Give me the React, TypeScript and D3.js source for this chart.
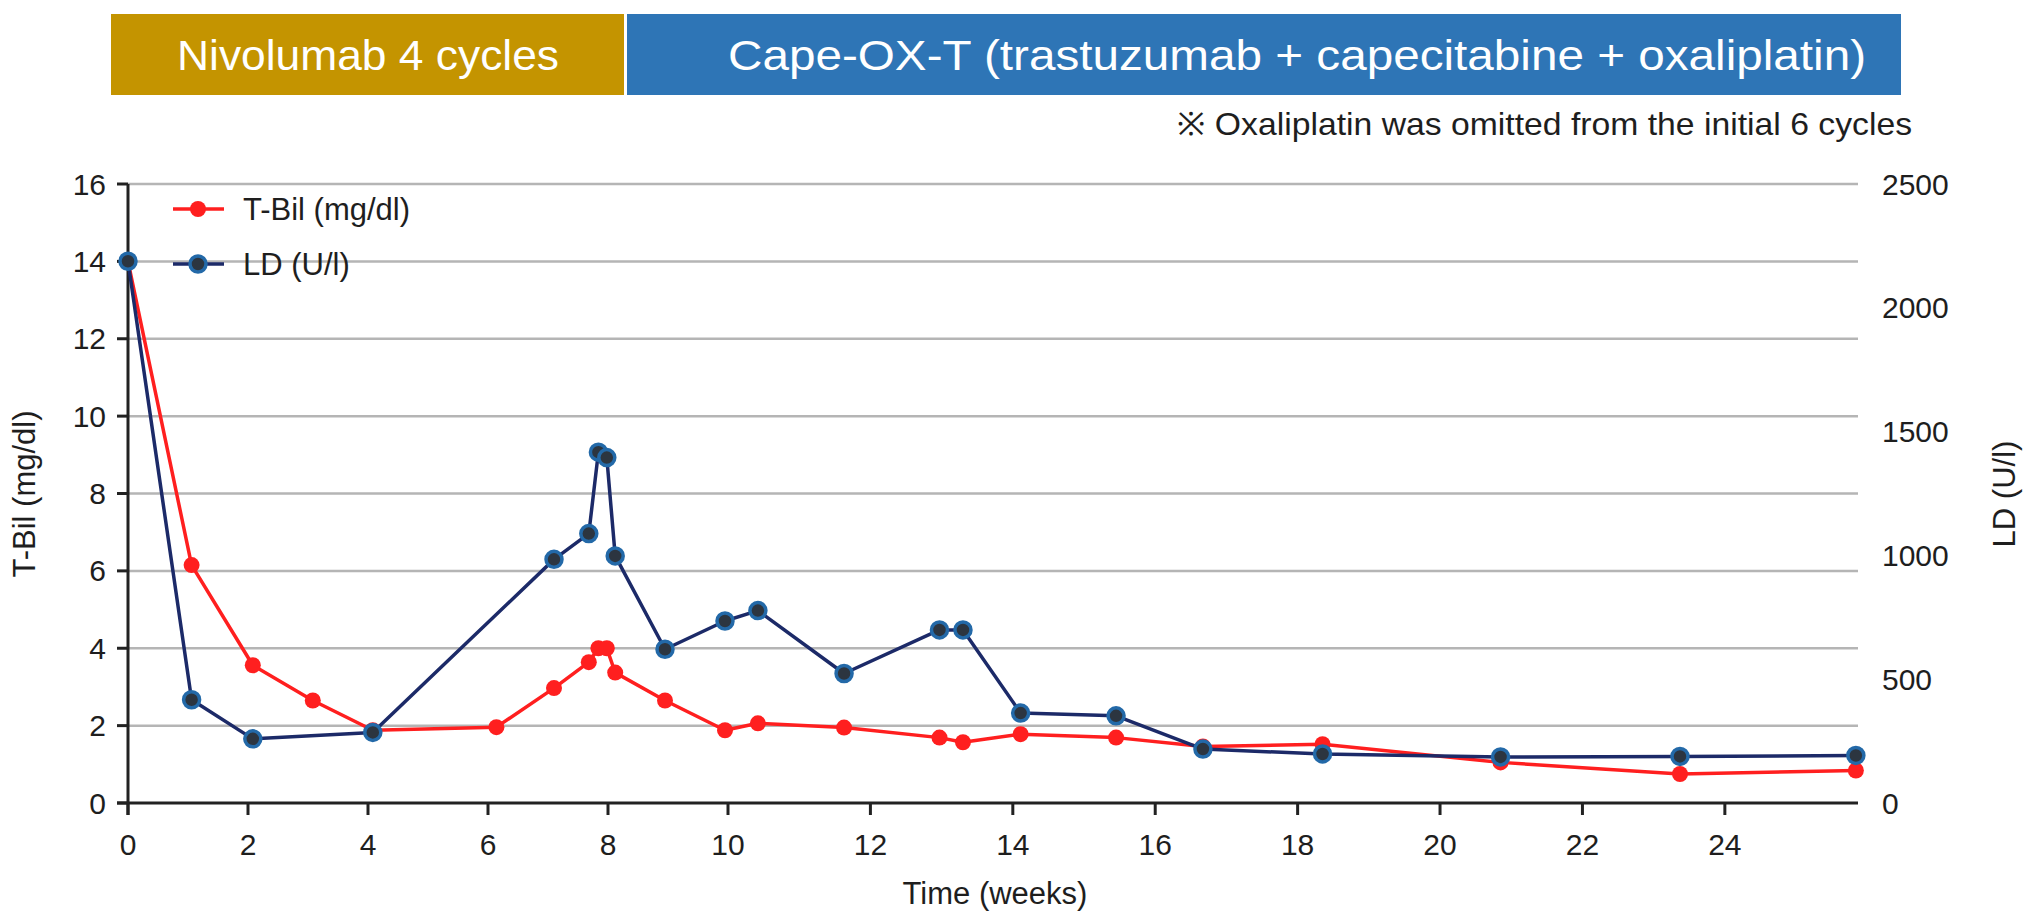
import React from 'react';
import * as d3 from 'd3';

const tbilWeeks = [0, 1.06, 2.08, 3.08, 4.08, 6.14, 7.1, 7.68, 7.84, 7.98, 8.12, 8.95, 9.95, 10.42, 11.63, 12.97, 13.3, 14.11, 15.45, 16.67, 18.35, 20.85, 23.37, 25.84];
const tbilValues = [14.0, 6.15, 3.56, 2.65, 1.88, 1.96, 2.97, 3.64, 4.0, 4.0, 3.37, 2.65, 1.88, 2.06, 1.95, 1.69, 1.57, 1.78, 1.69, 1.46, 1.52, 1.05, 0.75, 0.84];
const ldWeeks = [0, 1.06, 2.08, 4.08, 7.1, 7.68, 7.84, 7.98, 8.12, 8.95, 9.95, 10.42, 11.63, 12.97, 13.3, 14.11, 15.45, 16.67, 18.35, 20.85, 23.37, 25.84];
const ldValues = [2188, 417, 259, 285, 984, 1088, 1417, 1395, 998, 621, 735, 777, 523, 699, 699, 363, 352, 218, 198, 186, 188, 192];

const xTicks = [0, 2, 4, 6, 8, 10, 12, 14, 16, 18, 20, 22, 24];
const leftTicks = [0, 2, 4, 6, 8, 10, 12, 14, 16];
const rightTicks = [0, 500, 1000, 1500, 2000, 2500];

const phases = [
  { label: 'Nivolumab 4 cycles', color: '#c49400' },
  { label: 'Cape-OX-T (trastuzumab + capecitabine + oxaliplatin)', color: '#2e75b6' },
];
const note = '※ Oxaliplatin was omitted from the initial 6 cycles';
const seriesNames = ['T-Bil (mg/dl)', 'LD (U/l)'];

const FONT = '"Liberation Sans", Arial, Helvetica, sans-serif';
const RED = '#ff1f1f';
const NAVY = '#1c2a68';

export default function App() {
  const W = 2032, H = 923;
  const left = 128, right = 1858, top = 184, bottom = 803;
  const x = d3.scaleLinear().domain([0, 10, 25.87]).range([left, 728, right]);
  const yL = d3.scaleLinear().domain([0, 16]).range([bottom, top]);
  const yR = d3.scaleLinear().domain([0, 2500]).range([bottom, top]);

  const tbil = tbilWeeks.map((w, i) => [w, tbilValues[i]] as [number, number]);
  const ld = ldWeeks.map((w, i) => [w, ldValues[i]] as [number, number]);
  const lineT = d3.line<[number, number]>().x(d => x(d[0])).y(d => yL(d[1]));
  const lineL = d3.line<[number, number]>().x(d => x(d[0])).y(d => yR(d[1]));

  const textColor = '#1e1e1e';

  return (
    <svg width={W} height={H} style={{ position: 'absolute', left: 0, top: 0, background: '#fff' }} fontFamily={FONT}>
      <rect x={0} y={0} width={W} height={H} fill="#fff" />
      {/* phase banner */}
      <rect x={111} y={14} width={513} height={81} fill={phases[0].color} />
      <rect x={627} y={14} width={1274} height={81} fill={phases[1].color} />
      <text x={368} y={55} fill="#fff" fontSize={42} textAnchor="middle" dominantBaseline="central" textLength={382} lengthAdjust="spacingAndGlyphs">{phases[0].label}</text>
      <text x={1297} y={55} fill="#fff" fontSize={42} textAnchor="middle" dominantBaseline="central" textLength={1138} lengthAdjust="spacingAndGlyphs">{phases[1].label}</text>
      <text x={1912} y={124} fill={textColor} fontSize={32} textAnchor="end" dominantBaseline="central" textLength={735} lengthAdjust="spacingAndGlyphs">{note}</text>

      {/* gridlines */}
      {leftTicks.filter(t => t > 0).map(t => (
        <line key={'g' + t} x1={left} x2={right} y1={yL(t)} y2={yL(t)} stroke="#b5b5b5" strokeWidth={2.5} />
      ))}
      {/* axes */}
      <line x1={left - 11} x2={right} y1={bottom} y2={bottom} stroke="#222" strokeWidth={3} />
      <line x1={left} x2={left} y1={top} y2={bottom + 12} stroke="#222" strokeWidth={3} />
      {leftTicks.map(t => (
        <g key={'l' + t}>
          <line x1={left - 11} x2={left} y1={yL(t)} y2={yL(t)} stroke="#222" strokeWidth={3} />
          <text x={106} y={yL(t)} fontSize={30} fill={textColor} textAnchor="end" dominantBaseline="central">{t}</text>
        </g>
      ))}
      {xTicks.map(t => (
        <g key={'x' + t}>
          <line x1={x(t)} x2={x(t)} y1={bottom} y2={bottom + 12} stroke="#222" strokeWidth={3} />
          <text x={x(t)} y={855} fontSize={30} fill={textColor} textAnchor="middle">{t}</text>
        </g>
      ))}
      {rightTicks.map(t => (
        <text key={'r' + t} x={1882} y={yR(t)} fontSize={30} fill={textColor} textAnchor="start" dominantBaseline="central">{t}</text>
      ))}
      <text x={995} y={904} fontSize={31} fill={textColor} textAnchor="middle">Time (weeks)</text>
      <text transform={`translate(35,494) rotate(-90)`} fontSize={31} fill={textColor} textAnchor="middle">{seriesNames[0]}</text>
      <text transform={`translate(2015,494) rotate(-90)`} fontSize={31} fill={textColor} textAnchor="middle">{seriesNames[1]}</text>

      {/* series */}
      <path d={lineT(tbil) || ''} fill="none" stroke={RED} strokeWidth={3.5} strokeLinejoin="round" />
      {tbil.map((d, i) => (
        <circle key={'t' + i} cx={x(d[0])} cy={yL(d[1])} r={8} fill={RED} />
      ))}
      <path d={lineL(ld) || ''} fill="none" stroke={NAVY} strokeWidth={3.5} strokeLinejoin="round" />
      {ld.map((d, i) => (
        <circle key={'d' + i} cx={x(d[0])} cy={yR(d[1])} r={8} fill="#2c3540" stroke="#2369a8" strokeWidth={3.5} />
      ))}

      {/* legend */}
      <line x1={173} x2={224} y1={209} y2={209} stroke={RED} strokeWidth={3.5} />
      <circle cx={198} cy={209} r={8} fill={RED} />
      <text x={243} y={209} fontSize={31} fill={textColor} dominantBaseline="central">{seriesNames[0]}</text>
      <line x1={173} x2={224} y1={264} y2={264} stroke={NAVY} strokeWidth={3.5} />
      <circle cx={198} cy={264} r={8} fill="#2c3540" stroke="#2369a8" strokeWidth={3.5} />
      <text x={243} y={264} fontSize={31} fill={textColor} dominantBaseline="central">{seriesNames[1]}</text>
    </svg>
  );
}
